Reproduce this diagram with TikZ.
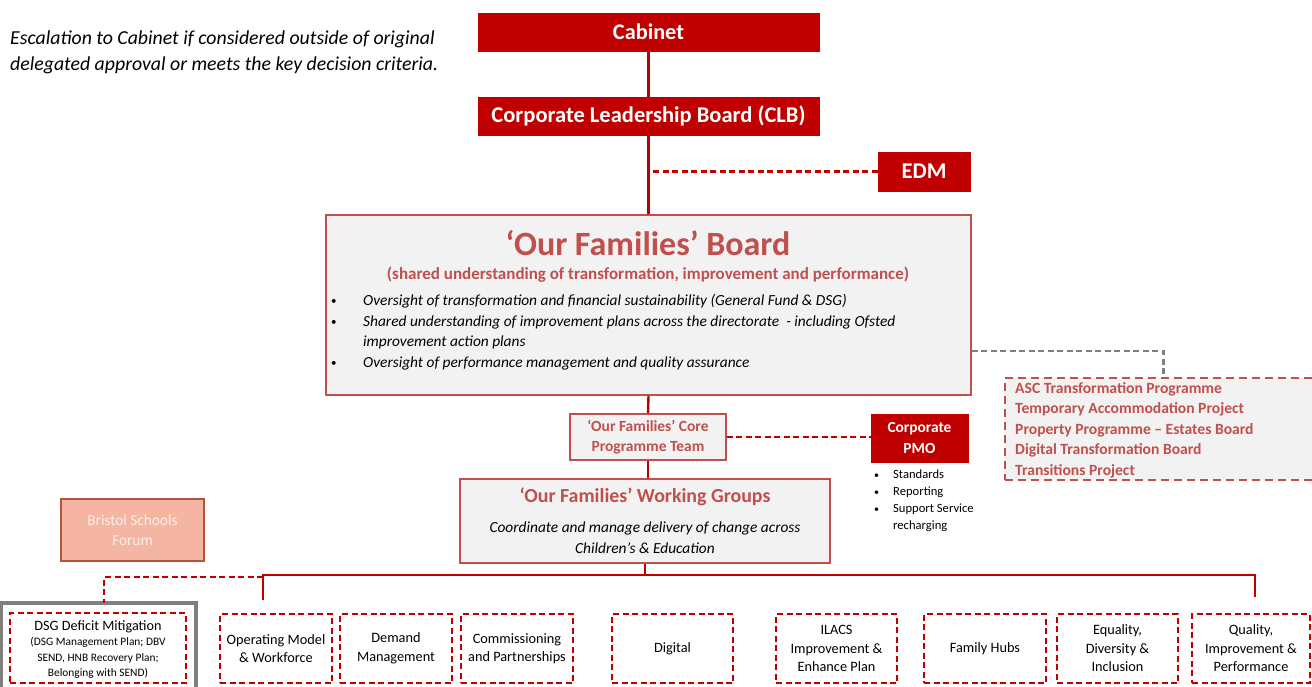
\documentclass[tikz,border=0pt]{standalone}
\usepackage{fontspec}
\setmainfont{Carlito}
\definecolor{dred}{HTML}{C00000}
\definecolor{lred}{HTML}{C0504D}
\definecolor{lgray}{HTML}{F2F2F2}
\definecolor{salmon}{HTML}{F4B6A3}
\definecolor{salmonbd}{HTML}{B4543C}
\definecolor{salmontx}{HTML}{FDEEE8}
\definecolor{dgray}{HTML}{7F7F7F}
\begin{document}
\begin{tikzpicture}[x=1pt,y=-1pt,
  solidbox/.style={fill=dred, draw=dred, text=white, font=\bfseries, inner sep=0pt, align=center},
  greybox/.style={fill=lgray, draw=lred, line width=1.8pt, inner sep=0pt, align=center},
  wsbox/.style={draw=dred, line width=2.4pt, dash pattern=on 6pt off 3.5pt, inner sep=0pt, align=center,
    minimum height=69pt, font=\fontsize{14.3}{18.5}\selectfont},
  trunk/.style={draw=dred, line width=2.4pt},
  dline/.style={draw=dred, line width=2.4pt, dash pattern=on 6pt off 3.5pt},
  gline/.style={draw=dgray, line width=2.4pt, dash pattern=on 6pt off 3.5pt},
  plain/.style={inner sep=0pt, align=left}
]
\useasboundingbox (0,0) rectangle (1312,686);

% escalation note
\node[plain, anchor=north west, font=\itshape\fontsize{19.8}{26}\selectfont] (note) at (10,31)
  {Escalation to Cabinet if considered outside of original\\delegated approval or meets the key decision criteria.};

% top boxes
\node[solidbox, minimum width=341pt, minimum height=38pt, font=\bfseries\fontsize{22.3}{25}\selectfont] (cab) at (648.5,32) {Cabinet};
\node[solidbox, minimum width=341pt, minimum height=38pt, font=\bfseries\fontsize{22.5}{25}\selectfont] (clb) at (648.5,116) {Corporate Leadership Board (CLB)};
\node[solidbox, minimum width=92pt, minimum height=39pt, font=\bfseries\fontsize{22.5}{25}\selectfont] (edm) at (924,171.5) {EDM};

% board
\node[greybox, minimum width=645pt, minimum height=180pt] (board) at (648.5,305) {};
\node[inner sep=0pt, text=lred, font=\bfseries\fontsize{34}{38}\selectfont] (btitle) at (648,243) {‘Our Families’ Board};
\node[inner sep=0pt, text=lred, font=\bfseries\fontsize{17}{20}\selectfont] (bsub) at (648,275) {(shared understanding of transformation, improvement and performance)};
\begin{scope}[every node/.style={plain, anchor=base west, font=\itshape\fontsize{15.4}{20.5}\selectfont}]
\node (bl1) at (363,305) {Oversight of transformation and financial sustainability (General Fund \& DSG)};
\node (bl2) at (363,326) {Shared understanding of improvement plans across the directorate \ - including Ofsted};
\node (bl2b) at (363,346) {improvement action plans};
\node (bl3) at (363,367) {Oversight of performance management and quality assurance};
\end{scope}
\begin{scope}[every node/.style={plain, anchor=base west, font=\fontsize{11}{20}\selectfont}]
\node (bu1) at (331,304) {•};
\node (bu2) at (331,325) {•};
\node (bu3) at (331,366) {•};
\end{scope}

% right dashed box
\node[fill=lgray, draw=lred, line width=2pt, dash pattern=on 8pt off 5pt, inner sep=0pt,
  minimum width=317pt, minimum height=102pt] (rbox) at (1163.5,429) {};
\node[plain, anchor=north west, text=lred, font=\bfseries\fontsize{15.6}{20.5}\selectfont] (rtext) at (1015,382)
  {ASC Transformation Programme\\Temporary Accommodation Project\\Property Programme – Estates Board\\Digital Transformation Board\\Transitions Project};

% core team and PMO
\node[greybox, minimum width=156pt, minimum height=46pt, text=lred, font=\bfseries\fontsize{15.5}{20.5}\selectfont] (core) at (648,437)
  {‘Our Families’ Core\\Programme Team};
\node[solidbox, minimum width=97pt, minimum height=48pt, font=\bfseries\fontsize{15.4}{20.5}\selectfont] (pmo) at (919.5,438)
  {Corporate\\PMO};
\node[plain, anchor=north west, font=\fontsize{12.6}{16.8}\selectfont] (pmobul) at (874,470)
  {\makebox[19pt][l]{\fontsize{10}{10}\selectfont•}Standards\\\makebox[19pt][l]{\fontsize{10}{10}\selectfont•}Reporting\\\makebox[19pt][l]{\fontsize{10}{10}\selectfont•}Support Service\\\makebox[19pt][l]{}recharging};

% working groups
\node[greybox, minimum width=370pt, minimum height=84pt] (wg) at (645,521) {};
\node[inner sep=0pt, text=lred, font=\bfseries\fontsize{19.9}{22}\selectfont] (wgt) at (645,497) {‘Our Families’ Working Groups};
\node[inner sep=0pt, align=center, font=\itshape\fontsize{15.4}{21}\selectfont] (wgx) at (645,538)
  {Coordinate and manage delivery of change across\\Children’s \& Education};

% Bristol Schools Forum
\node[fill=salmon, draw=salmonbd, line width=2pt, inner sep=0pt, minimum width=143pt, minimum height=62pt,
  text=salmontx, align=center, font=\fontsize{15.3}{20.5}\selectfont] (bsf) at (132.5,530) {Bristol Schools\\Forum};

% DSG
\node[draw=dgray, line width=3.5pt, inner sep=0pt, minimum width=195pt, minimum height=90pt] (dsgout) at (98.5,648) {};
\node[wsbox, minimum width=176pt, minimum height=70pt] (dsg) at (98,648) {};
\node[inner sep=0pt, align=center, font=\fontsize{14.2}{17}\selectfont] (dsgt) at (98,627) {DSG Deficit Mitigation};
\node[inner sep=0pt, align=center, font=\fontsize{11.4}{15.5}\selectfont] (dsgs) at (98,658) {(DSG Management Plan; DBV\\SEND, HNB Recovery Plan;\\Belonging with SEND)};

% workstreams
\node[wsbox, minimum width=112pt] (op) at (276,648.5) {Operating Model\\\& Workforce};
\node[wsbox, minimum width=112pt] (dem) at (396,648.5) {Demand\\Management};
\node[wsbox, minimum width=112pt] (com) at (517,648.5) {Commissioning\\and Partnerships};
\node[wsbox, minimum width=121pt] (dig) at (672.5,648.5) {Digital};
\node[wsbox, minimum width=121pt] (ilacs) at (836.5,648.5) {ILACS\\Improvement \&\\Enhance Plan};
\node[wsbox, minimum width=122pt] (fh) at (985,648.5) {Family Hubs};
\node[wsbox, minimum width=121pt] (eq) at (1117.5,648.5) {Equality,\\Diversity \&\\Inclusion};
\node[wsbox, minimum width=118pt] (qip) at (1251,648.5) {Quality,\\Improvement \&\\Performance};

% connectors
\draw[trunk] (cab.south) -- (clb.north);
\draw[trunk] (clb.south) -- (board.north);
\draw[dline] (edm.west) -- (edm.west -| clb.south);
\draw[gline] ([yshift=-46pt]board.east) -| (rbox.north);
\draw[trunk] (board.south) -- (core.north);
\draw[trunk] (core.south) -- (core.south |- wg.north);
\draw[dline] (core.east) -- (core.east -| pmo.west);

\coordinate (busL) at (263,575);
\coordinate (busR) at (1255,575);
\coordinate (opTop) at (263,600);
\coordinate (qTop) at (1255,597);
\coordinate (dsgTop) at (104,603);
\draw[trunk] (wg.south) -- (wg.south |- busL);
\draw[trunk] (opTop) |- (busR) -- (qTop);
\draw[dline] ([yshift=-2pt]busL) -| (dsgTop);
\end{tikzpicture}
\end{document}
